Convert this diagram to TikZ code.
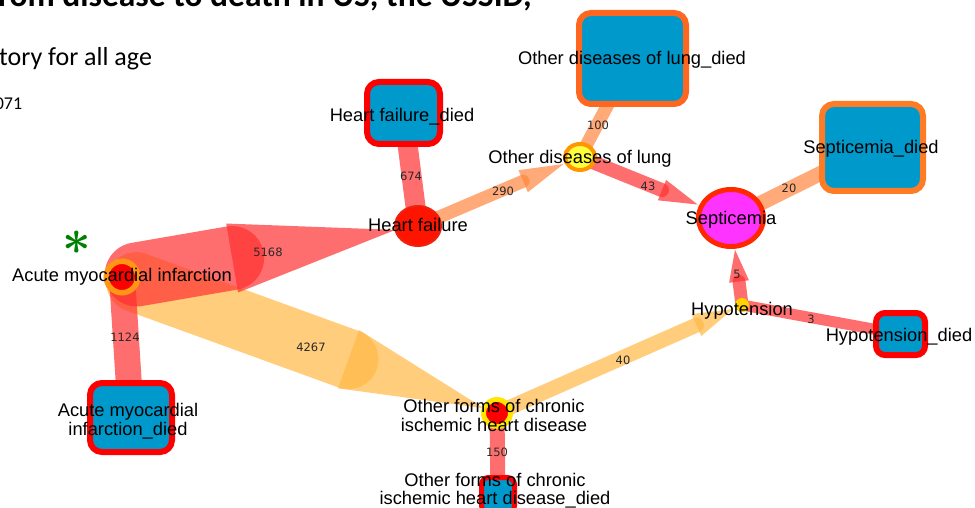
\documentclass[tikz,border=0pt]{standalone}
\usepackage{fontspec}
\setmainfont{Liberation Sans}
\newfontfamily\calibfont{Carlito}
\newfontfamily\edgenumfont{DejaVu Sans}
\usetikzlibrary{calc,shapes.geometric,backgrounds}
\definecolor{boxblue}{RGB}{0,153,204}
\definecolor{nodered}{RGB}{255,0,0}
\definecolor{lungorange}{RGB}{255,102,32}
\definecolor{sepsorange}{RGB}{255,124,38}
\definecolor{flowred}{RGB}{255,48,48}
\definecolor{floworange}{RGB}{255,184,69}
\definecolor{flowsalmon}{RGB}{255,134,62}
\definecolor{amiring}{RGB}{255,150,20}
\definecolor{hfred}{RGB}{255,20,0}
\definecolor{hfborder}{RGB}{235,35,15}
\definecolor{lungyellow}{RGB}{255,255,60}
\definecolor{lungring}{RGB}{255,150,0}
\definecolor{sepsmagenta}{RGB}{255,51,255}
\definecolor{sepsring}{RGB}{255,40,0}
\definecolor{hypoyellow}{RGB}{255,210,0}
\definecolor{halo}{RGB}{255,230,0}
\definecolor{numgray}{RGB}{40,40,40}
\definecolor{stargreen}{RGB}{0,128,0}

% #1 source, #2 target, #3 start offset, #4 fraction of band, #5 band width,
% #6 half width of head base, #7 head tip distance from target, #8 style
\newcommand\flowarrow[8]{%
  \coordinate (fa) at ($(#1)!#3!(#2)$);
  \coordinate (fb) at ($(#1)!#4!(#2)$);
  \coordinate (fc) at ($(#2)!#7!(#1)$);
  \draw[#8, line width=#5, line cap=round] (fa) -- (fb);
  \fill[#8] ($(fb)!#6!90:(#2)$) -- (fc) -- ($(fb)!#6!-90:(#2)$) -- cycle;
}

\begin{document}
\begin{tikzpicture}[x=1pt,y=-1pt,
  redflow/.style={color=flowred, opacity=0.7},
  orangeflow/.style={color=floworange, opacity=0.7},
  salmonflow/.style={color=flowsalmon, opacity=0.7},
  diedbox/.style={rectangle, rounded corners=12pt, fill=boxblue, line width=6pt, inner sep=0pt},
  lbl/.style={font=\fontsize{18.3}{19}\selectfont, inner sep=0pt, align=center, text=black},
  num/.style={font=\edgenumfont\fontsize{11.5}{11.5}\selectfont, inner sep=0pt, text=numgray}]
\useasboundingbox (0,0) rectangle (975,508);

% header texts
\node[anchor=base west, inner sep=0pt, font=\calibfont\bfseries\fontsize{33.5}{33.5}\selectfont] (title) at (-2,7) {rom disease to death in US, the USSID,};
\node[anchor=base west, inner sep=0pt, font=\calibfont\fontsize{26}{26}\selectfont] (subtitle) at (-1,66) {tory for all age};
\node[anchor=base west, inner sep=0pt, font=\calibfont\fontsize{18}{18}\selectfont] (count) at (-5.4,110) {071};

% nodes
\node[circle, fill=nodered, draw=amiring, line width=5.5pt, minimum size=31.5pt, inner sep=0pt] (AMI) at (122,277) {};
\node[ellipse, fill=hfred, draw=hfborder, line width=2pt, minimum width=46pt, minimum height=40pt, inner sep=0pt] (HF) at (418,226) {};
\node[ellipse, fill=lungyellow, draw=lungring, line width=4pt, minimum width=30pt, minimum height=26pt, inner sep=0pt] (ODL) at (580,157) {};
\node[ellipse, fill=sepsmagenta, draw=sepsring, line width=5pt, minimum width=65pt, minimum height=57pt, inner sep=0pt] (S) at (731,218) {};
\node[circle, fill=hypoyellow, minimum size=14pt, inner sep=0pt] (H) at (742,305) {};
\node[circle, fill=nodered, draw=halo, line width=5pt, minimum size=27pt, inner sep=0pt] (OF) at (497,413) {};

\node[diedbox, draw=nodered, minimum width=73pt, minimum height=62pt] (HFd) at (403.5,113) {};
\node[diedbox, draw=lungorange, minimum width=107pt, minimum height=91pt] (ODLd) at (632.5,58.5) {};
\node[diedbox, draw=sepsorange, minimum width=101pt, minimum height=87pt] (Sd) at (872.5,147.5) {};
\node[diedbox, draw=nodered, minimum width=82pt, minimum height=69pt] (AMId) at (131,417.5) {};
\node[diedbox, draw=nodered, rounded corners=9pt, minimum width=49pt, minimum height=42pt] (Hd) at (900.5,334) {};
\node[diedbox, draw=nodered, rounded corners=7pt, line width=5pt, minimum width=33pt, minimum height=35pt] (OFd) at (498,495) {};

% flows
\begin{pgfonlayer}{background}
  \flowarrow{AMI.center}{OF.center}{15pt}{0.604}{60pt}{31pt}{14pt}{orangeflow}
  \flowarrow{AMI.center}{HF.center}{15pt}{0.372}{64pt}{35pt}{23pt}{redflow}
  \draw[redflow, line width=26pt] (AMI.center) -- (AMId.center);
  \draw[redflow, line width=20pt] (HF.center) -- (HFd.center);
  \flowarrow{HF.center}{ODL.center}{0pt}{0.649}{13pt}{12pt}{18pt}{salmonflow}
  \draw[salmonflow, line width=13pt] (ODL.center) -- (ODLd.center);
  \flowarrow{ODL.center}{S.center}{0pt}{0.543}{14pt}{11pt}{36pt}{redflow}
  \draw[salmonflow, line width=15pt] (S.center) -- (Sd.center);
  \flowarrow{H.center}{S.center}{0pt}{0.27}{13pt}{10pt}{32pt}{redflow}
  \draw[redflow, line width=11pt] (H.center) -- (Hd.center);
  \flowarrow{OF.center}{H.center}{0pt}{0.814}{15pt}{12pt}{10pt}{orangeflow}
  \draw[redflow, line width=15pt] (OF.center) -- (OFd.center);
\end{pgfonlayer}

% flow labels
\node[num] (n5168) at (268,252) {5168};
\node[num] (n4267) at (311,347) {4267};
\node[num] (n1124) at (125,337) {1124};
\node[num] (n674) at (411,176) {674};
\node[num] (n290) at (503,191) {290};
\node[num] (n100) at (598,125) {100};
\node[num] (n43) at (648,186) {43};
\node[num] (n20) at (789,188) {20};
\node[num] (n5) at (737,274) {5};
\node[num] (n3) at (811,319) {3};
\node[num] (n40) at (623,360) {40};
\node[num] (n150) at (497,452) {150};

% node labels
\node[lbl, anchor=base] (HFd-l) at (402,121.5) {Heart failure\_died};
\node[lbl, anchor=base] (ODLd-l) at (632,64.5) {Other diseases of lung\_died};
\node[lbl, anchor=base] (ODL-l) at (580,163.5) {Other diseases of lung};
\node[lbl, anchor=base] (HF-l) at (418,231.5) {Heart failure};
\node[lbl, anchor=base] (Sd-l) at (871,153.5) {Septicemia\_died};
\node[lbl, anchor=base] (S-l) at (731,224.5) {Septicemia};
\node[lbl, anchor=base] (AMI-l) at (122,281.5) {Acute myocardial infarction};
\node[lbl, anchor=base] (H-l) at (742,315.5) {Hypotension};
\node[lbl, anchor=base] (Hd-l) at (899,341) {Hypotension\_died};
\node[lbl] (OF-l) at (494,415.3) {Other forms of chronic\\ischemic heart disease};
\node[lbl] (AMId-l) at (128,420.7) {Acute myocardial\\infarction\_died};
\node[lbl, font=\fontsize{18.3}{18}\selectfont] (OFd-l) at (495,490.5) {Other forms of chronic\\ischemic heart disease\_died};

% marker
\node[text=stargreen, inner sep=0pt, font={\fontsize{24}{24}\selectfont}] (asterisk) at (77,243) {\scalebox{2}{\boldmath$\ast$}};
\end{tikzpicture}
\end{document}
